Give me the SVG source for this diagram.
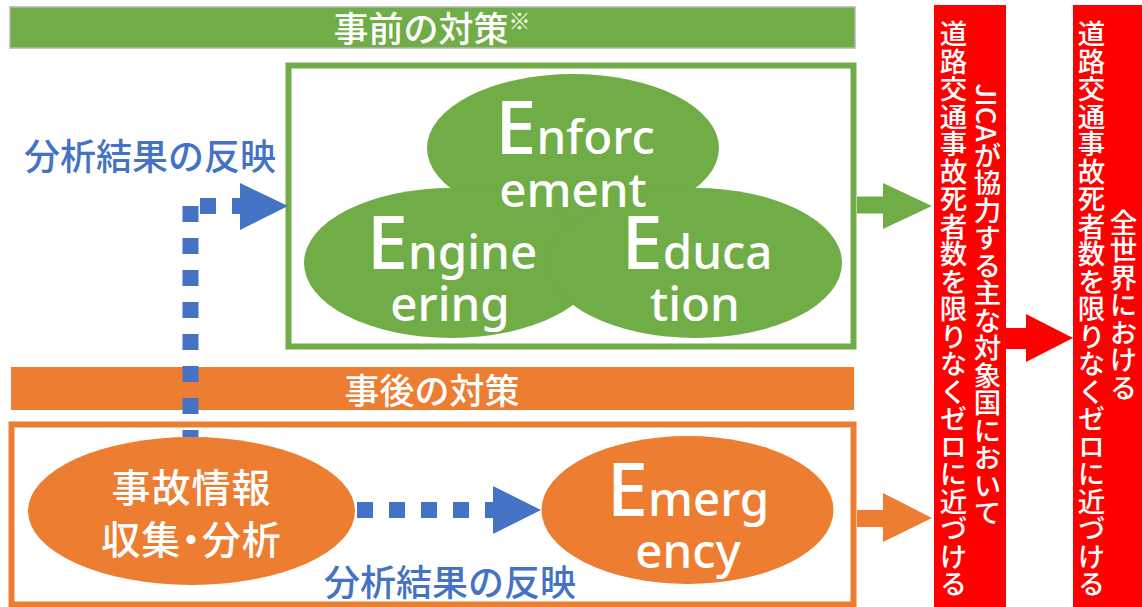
<svg xmlns="http://www.w3.org/2000/svg" width="1142" height="607" viewBox="0 0 1142 607">
<style>
.jp{font-family:'Noto Sans CJK JP','Noto Sans',sans-serif;font-weight:500}
.en{font-family:'Noto Sans','Open Sans',sans-serif;fill:#fff;font-size:47.5px;font-weight:500}
.big{font-size:74px}
.wt{fill:#fff}
.bl{fill:#4472C4}
.vt{font-family:'Noto Sans CJK JP',sans-serif;font-weight:500;font-size:27.5px;fill:#fff;writing-mode:vertical-rl;text-anchor:middle}
.g{fill:#70AD47}
.o{fill:#ED7D31}
.r{fill:#FF0000}
.palt{font-feature-settings:"palt"}
.dash{stroke:#4472C4;stroke-width:16;stroke-dasharray:16 16;fill:none}
</style>
<rect width="1142" height="607" fill="#fff"/>

<g id="banner-pre">
<rect x="10" y="7" width="845" height="41" class="g" stroke="#B4B4B4" stroke-width="1.5"/>
<text x="432" y="42" text-anchor="middle" class="jp wt" font-size="35">事前の対策<tspan font-size="22" dy="-13">※</tspan></text>
</g>

<g id="box-pre">
<rect x="288.5" y="65.5" width="565" height="281" fill="none" stroke="#70AD47" stroke-width="6"/>
</g>

<g id="banner-post">
<rect x="11" y="367" width="843" height="43" class="o"/>
<text x="432" y="404" text-anchor="middle" class="jp wt" font-size="35">事後の対策</text>
</g>

<g id="box-post">
<rect x="11.5" y="424.5" width="842" height="180" fill="none" stroke="#ED7D31" stroke-width="6"/>
</g>

<g id="clover">
<ellipse cx="573" cy="148" rx="146" ry="74" class="g"/>
<ellipse cx="451" cy="263" rx="147" ry="75" class="g"/>
<ellipse cx="695" cy="263" rx="147" ry="75" class="g"/>
</g>

<g id="enforcement">
<text x="575" y="154" text-anchor="middle" class="en"><tspan class="big">E</tspan>nforc</text>
<text x="573" y="207" text-anchor="middle" class="en">ement</text>
</g>
<g id="engineering">
<text x="452" y="269" text-anchor="middle" class="en"><tspan class="big">E</tspan>ngine</text>
<text x="450" y="321" text-anchor="middle" class="en">ering</text>
</g>
<g id="education">
<text x="697" y="269" text-anchor="middle" class="en"><tspan class="big">E</tspan>duca</text>
<text x="695" y="321" text-anchor="middle" class="en">tion</text>
</g>

<g id="accident-info">
<ellipse cx="191.5" cy="511" rx="163.5" ry="74" class="o"/>
<text x="191.5" y="502" text-anchor="middle" class="jp wt" font-size="39" letter-spacing="1">事故情報</text>
<text x="191.5" y="554" text-anchor="middle" class="jp wt palt" font-size="39" letter-spacing="1">収集・分析</text>
</g>

<g id="emergency">
<ellipse cx="687.5" cy="510" rx="146" ry="74" class="o"/>
<text x="688" y="516" text-anchor="middle" class="en"><tspan class="big">E</tspan>merg</text>
<text x="688" y="568" text-anchor="middle" class="en">ency</text>
</g>

<g id="label-top">
<text x="150" y="170" text-anchor="middle" class="jp bl" font-size="36">分析結果の反映</text>
</g>
<g id="label-bottom">
<text x="450" y="596" text-anchor="middle" class="jp bl" font-size="36">分析結果の反映</text>
</g>

<g id="goal-jica">
<rect x="934" y="5" width="72" height="602" class="r"/>
<text x="987.5" y="305" class="vt">JICAが協力する主な対象国において</text>
<text x="953.5" y="309" class="vt">道路交通事故死者数を限りなくゼロに近づける</text>
</g>

<g id="goal-world">
<rect x="1073" y="5" width="69" height="602" class="r"/>
<text x="1123.5" y="305" class="vt">全世界における</text>
<text x="1091.5" y="309" class="vt">道路交通事故死者数を限りなくゼロに近づける</text>
</g>

<g id="connectors">
<path d="M857 196.5H883V183L932 206L883 229V213.5H857Z" class="g"/>
<path d="M857 510H883V493L932 518L883 542V527H857Z" class="o"/>
<path d="M1006 328H1026V314L1073 338L1026 362V349H1006Z" class="r"/>
<path d="M190.5 437V206" class="dash" stroke-dashoffset="9"/>
<path d="M200 206H241" class="dash"/>
<polygon points="240,183 288,206 240,230" class="bl"/>
<path d="M357 510H494" class="dash"/>
<polygon points="493,486 541,510 493,534" class="bl"/>
</g>
</svg>
